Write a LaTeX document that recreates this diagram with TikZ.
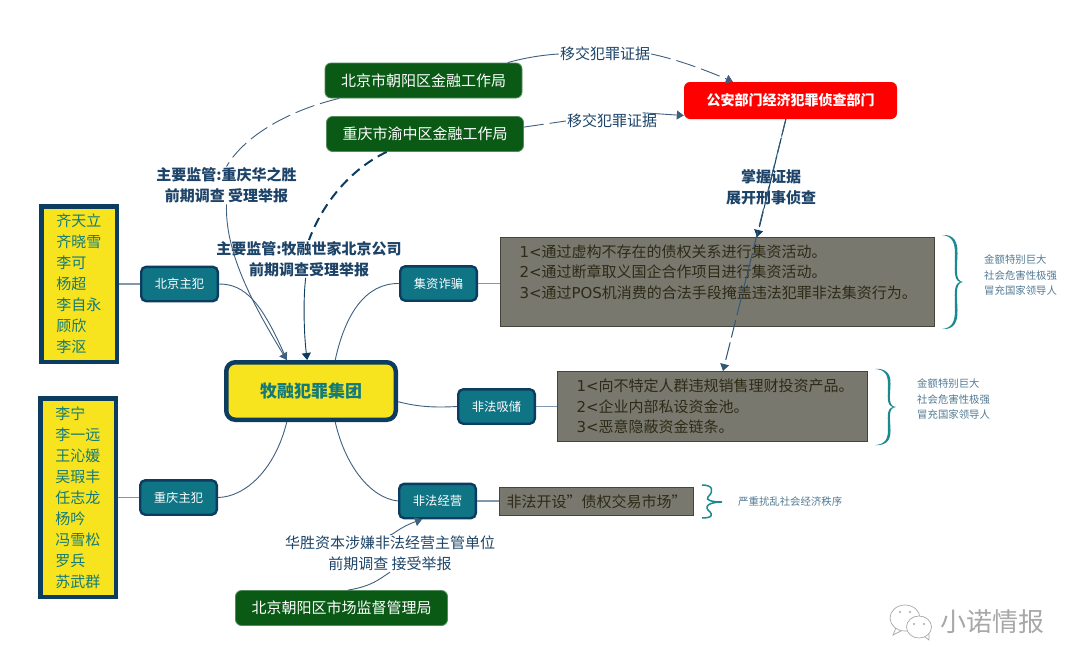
\documentclass[tikz,border=0pt]{standalone}
\usepackage{xcolor}
\usepackage{fontspec}
\usepackage{tikz}
\usetikzlibrary{arrows.meta,positioning}
\setmainfont{Noto Sans CJK SC}
\newfontfamily\latfont{DejaVu Sans}
\definecolor{navy}{HTML}{0C3C60}
\definecolor{edgeblue}{HTML}{3E5F7E}
\definecolor{stubblue}{HTML}{7F98AE}
\definecolor{tealbox}{HTML}{0F7484}
\definecolor{tealtext}{HTML}{137A78}
\definecolor{greenbox}{HTML}{0A5A16}
\definecolor{goldbox}{HTML}{F7E31E}
\definecolor{graybox}{HTML}{78786E}
\definecolor{grayline}{HTML}{45453A}
\definecolor{graytext}{HTML}{2E2A16}
\definecolor{labelblue}{HTML}{1D4468}
\definecolor{noteblue}{HTML}{527A94}
\definecolor{bracegreen}{HTML}{1A8A90}
\definecolor{markgray}{HTML}{A8A8A8}
\newcommand{\fs}[2]{\fontsize{#1}{#2}\selectfont}
\newcommand{\lat}[1]{{\latfont #1}}
\newcommand{\bigcurly}[3]{%
  \begin{scope}[shift={(#1,#2)},yscale=#3]
    \fill[bracegreen] (0,-47) .. controls (12,-48) and (16,-40) .. (15.5,-28)
      .. controls (15,-12) and (13,-1) .. (21,0)
      .. controls (13,1) and (15,12) .. (15.5,28)
      .. controls (16,40) and (12,48) .. (0,47)
      .. controls (10,46) and (13,40) .. (13,28)
      .. controls (13,14) and (11,2) .. (18,0)
      .. controls (11,-2) and (13,-14) .. (13,-28)
      .. controls (13,-40) and (10,-46) .. (0,-47) -- cycle;
  \end{scope}}
\tikzset{
  arrowhead/.style={-{Triangle[length=7pt,width=9pt]}},
  thinline/.style={draw=edgeblue,line width=0.9pt},
  longdash/.style={dash pattern=on 20pt off 6pt},
}
\begin{document}
\begin{tikzpicture}[x=1pt,y=-1pt]
  \useasboundingbox (0,0) rectangle (1080,670);
  % authorities
  \begin{scope}[every node/.style={draw=greenbox!70!white,line width=0.8pt,fill=greenbox,rounded corners=6pt,text=white,inner sep=0pt,minimum width=197pt,minimum height=35pt,font=\fs{15}{18}}]
    \node (bjfin) at (423.5,80.5) {北京市朝阳区金融工作局};
    \node (cqfin) at (425,134) {重庆市渝中区金融工作局};
    \node[minimum width=212pt] (mktreg) at (341.5,608) {北京朝阳区市场监督管理局};
  \end{scope}
  \node[fill=red,rounded corners=6pt,text=white,inner sep=0pt,minimum width=213pt,minimum height=37pt,font=\fs{14}{18}\bfseries] (gongan) at (790.5,100.5) {公安部门经济犯罪侦查部门};
  % name lists
  \begin{scope}[every node/.style={draw=navy,line width=4.5pt,fill=goldbox,text=tealtext,inner xsep=15pt,inner ysep=0pt,text width=45.5pt,minimum width=75.5pt,align=left,font=\fs{15}{21}}]
    \node[minimum height=155.5pt] (listbj) at (79,284) {齐天立\\齐晓雪\\李可\\杨超\\李自永\\顾欣\\李沤};
    \node[minimum height=198.5pt] (listcq) at (78,497.5) {李宁\\李一远\\王沁媛\\吴瑕丰\\任志龙\\杨吟\\冯雪松\\罗兵\\苏武群};
  \end{scope}
  \node[draw=navy,line width=4.5pt,fill=goldbox,rounded corners=9pt,text=tealtext,minimum width=169.5pt,minimum height=57.5pt,font=\fs{17}{20}\bfseries] (ring) at (311,391) {牧融犯罪集团};
  % branches
  \begin{scope}[every node/.style={draw=navy,line width=2.4pt,fill=tealbox,rounded corners=5pt,text=white,inner sep=0pt,minimum width=76.6pt,minimum height=34.4pt,font=\fs{12.3}{15}}]
    \node (bjchief) at (179.5,284) {北京主犯};
    \node (cqchief) at (178.5,497.5) {重庆主犯};
    \node (fraud) at (438.5,283.5) {集资诈骗};
    \node (deposit) at (496.5,406.5) {非法吸储};
    \node (illegal) at (437.5,501) {非法经营};
  \end{scope}
  % charges
  \begin{scope}[every node/.style={draw=grayline,line width=1pt,fill=graybox,text=graytext,inner ysep=0pt,font=\fs{15}{20.7}}]
    \node[inner xsep=19pt,text width=396pt,align=left,minimum height=89pt] (grayfraud) at (717.5,282) {\lat{1<}通过虚构不存在的债权关系进行集资活动。\\\lat{2<}通过断章取义国企合作项目进行集资活动。\\\lat{3<}通过\lat{POS}机消费的合法手段掩盖违法犯罪非法集资行为。\\ \mbox{}};
    \node[inner xsep=19pt,text width=272pt,align=left,minimum height=70pt] (graydeposit) at (712.5,406.5) {\lat{1<}向不特定人群违规销售理财投资产品。\\\lat{2<}企业内部私设资金池。\\\lat{3<}恶意隐蔽资金链条。};
    \node[inner sep=0pt,minimum width=194pt,minimum height=28pt] (grayillegal) at (596.5,501.5) {非法开设"债权交易市场"};
  \end{scope}
  % notes
  \begin{scope}[every node/.style={text=noteblue,inner sep=0pt,align=left,font=\fs{10.4}{15.5}}]
    \node[anchor=west] (notefraud) at (984,275.5) {金额特别巨大\\社会危害性极强\\冒充国家领导人};
    \node[anchor=west] (notedeposit) at (917,399.5) {金额特别巨大\\社会危害性极强\\冒充国家领导人};
    \node[anchor=west] (noteillegal) at (738,502) {严重扰乱社会经济秩序};
  \end{scope}
  % edge labels
  \begin{scope}[every node/.style={text=labelblue,inner sep=1pt,align=center,font=\fs{15}{21}}]
    \node[font=\fs{15}{21}\bfseries] (labbjfin) at (226.5,185.5) {主要监管:重庆华之胜\\前期调查 受理举报};
    \node[font=\fs{15}{21}\bfseries] (labcqfin) at (309,259) {主要监管:牧融世家北京公司\\前期调查受理举报};
    \node (labmovea) at (605,54) {移交犯罪证据};
    \node (labmoveb) at (612,121) {移交犯罪证据};
    \node[font=\fs{15}{21}\bfseries] (labevid) at (771,187.5) {掌握证据\\展开刑事侦查};
    \node (labmkt) at (390,553.5) {华胜资本涉嫌非法经营主管单位\\前期调查 接受举报};
  \end{scope}
  % straight stubs
  \begin{scope}[every edge/.style={draw=stubblue,line width=1.4pt}]
    \path (listbj.east |- bjchief) edge (bjchief);
    \path (listcq.east |- cqchief) edge (cqchief);
    \path (fraud) edge (fraud -| grayfraud.west);
    \path (deposit) edge (graydeposit);
    \path (illegal) edge (illegal -| grayillegal.west);
  \end{scope}
  % curved branches
  \draw[thinline] (bjchief.east) .. controls (245,284) and (262,302) .. (ring.128);
  \draw[thinline] (cqchief.east) .. controls (245,497) and (275,470) .. (ring.232);
  \draw[thinline] (fraud.west) .. controls (365,283) and (345,315) .. (ring.52);
  \draw[thinline] (deposit.west) .. controls (430,408) and (415,406) .. (ring.353);
  \draw[thinline] (illegal.west) .. controls (370,498) and (345,465) .. (ring.308);
  % supervision
  \draw[thinline,longdash] (bjfin.192) .. controls (290,110) and (245,135) .. (labbjfin.north);
  \draw[thinline,arrowhead] (labbjfin.south) .. controls (225,250) and (250,300) .. (ring.128);
  \draw[draw=navy,line width=2pt,dash pattern=on 10pt off 6pt] (cqfin.205) .. controls (345,172) and (320,210) .. (labcqfin.north);
  \draw[draw=navy,line width=0.9pt,arrowhead] (labcqfin.260) .. controls (303,300) and (304,335) .. (ring.97);
  \draw[thinline] (bjfin.12) .. controls (520,59) and (540,55) .. (labmovea.west);
  \draw[thinline,longdash,arrowhead] (labmovea.east) .. controls (680,60) and (710,72) .. (gongan.162);
  \draw[thinline,longdash] (cqfin.4) -- (labmoveb.west);
  \draw[thinline,arrowhead] (labmoveb.15) -- (gongan.188);
  \draw[draw=navy,line width=1pt,dash pattern=on 16pt off 3pt,arrowhead] (gongan.256) -- (grayfraud.north -| 757,237);
  \draw[draw=navy!85!white,line width=1pt,dash pattern=on 18pt off 5pt,arrowhead] (gongan.256) -- (graydeposit.north -| 723,371);
  \draw[thinline] (mktreg.70) .. controls (372,586) and (378,580) .. (labmkt.south);
  \draw[thinline,arrowhead] (labmkt.north) .. controls (393,535) and (400,527) .. (illegal.230);
  % braces
  \bigcurly{942}{282}{1}
  \bigcurly{875}{407}{0.81}
  \draw[bracegreen,line width=1.5pt] (702,485) .. controls (712,485) and (715,490) .. (708,497)
    .. controls (705,500) and (712,502) .. (722,502) .. controls (712,502) and (704,505) .. (708,510)
    .. controls (714,515) and (712,518) .. (702,518);
  % watermark
  \begin{scope}[markgray,line width=0.7pt]
    \draw[fill=white] (905,618) ellipse (15 and 13);
    \draw (896,628) -- (893,635) -- (901,631);
    \draw[fill=white] (919,627) ellipse (12.5 and 11);
    \draw (925,637) -- (929,640) -- (929,634);
    \fill (900,612) circle (1.2) (910,612) circle (1.2) (914,624) circle (1.1) (924,624) circle (1.1);
    \node[text=markgray,inner sep=0pt,anchor=west,font=\fs{26}{30}] (wmark) at (940,622) {小诺情报};
  \end{scope}
\end{tikzpicture}
\end{document}
